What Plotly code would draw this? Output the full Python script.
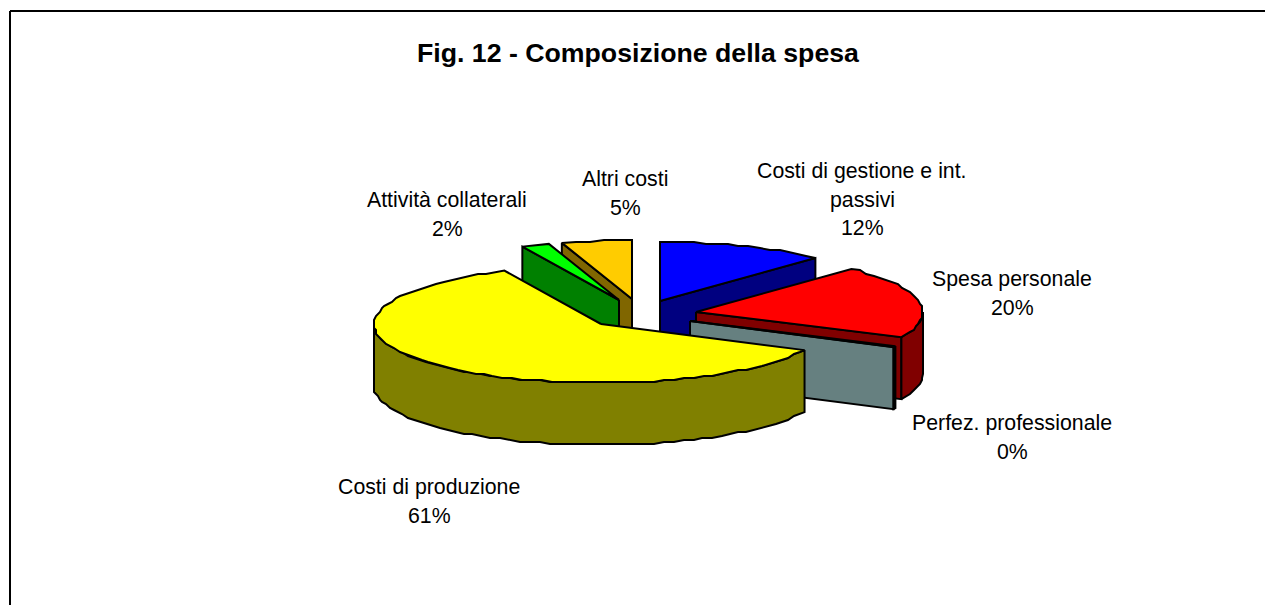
import numpy as np
import plotly.graph_objects as go

# ---- data ----
categories = ["Costi di gestione e int. passivi", "Spesa personale", "Perfez. professionale",
              "Costi di produzione", "Attività collaterali", "Altri costi"]
values = [12.0, 20.0, 0.3, 60.7, 2.0, 5.0]
label_lines = [["Costi di gestione e int.", "passivi"], ["Spesa personale"], ["Perfez. professionale"],
               ["Costi di produzione"], ["Attività collaterali"], ["Altri costi"]]
title_text = "Fig. 12 - Composizione della spesa"

# ---- style: pixel scene ----
W, H = 1265, 605
RX, RY, DEPTH = 227, 59, 62
top_colors = ["#0000FF", "#FF0000", "#CCFFFF", "#FFFF00", "#00FF00", "#FFCC00"]
side_colors = ["#000080", "#800000", "#668080", "#808000", "#008000", "#806600"]
apexes = [(660, 301), (696, 312), (690, 321), (601, 324), (619, 300), (632, 299)]
label_pos = [(862, 171), (1012, 279), (1012, 423), (429, 487), (447, 200), (625, 179)]
LABEL_GAP = 28.5
draw_order = [0, 5, 4, 1, 2, 3]
LINE = dict(color="black", width=2)
GRID = 2.0

fracs = np.array(values) / sum(values)
edges = np.concatenate([[0], np.cumsum(fracs)]) * 2 * np.pi


def rim(a0, a1, cx, cy):
    n = max(2, int(np.degrees(a1 - a0) / 2.6))
    t = np.linspace(a0, a1, n)
    x = cx + RX * np.sin(t)
    y = cy - RY * np.cos(t)
    # coarse device rounding gives the stepped edge of the original drawing
    y = np.round(y / GRID) * GRID
    x = np.round(x / GRID) * GRID
    x[0], x[-1] = cx + RX * np.sin(a0), cx + RX * np.sin(a1)
    y[0], y[-1] = cy - RY * np.cos(a0), cy - RY * np.cos(a1)
    return x, y


def poly(fig, x, y, color):
    x = list(x) + [x[0]]
    y = list(y) + [y[0]]
    fig.add_trace(go.Scatter(x=x, y=y, mode="lines", fill="toself", fillcolor=color,
                             line=LINE, hoverinfo="skip", showlegend=False))


fig = go.Figure()
for i in draw_order:
    a0, a1 = edges[i], edges[i + 1]
    cx, cy = apexes[i]
    rx, ry = rim(a0, a1, cx, cy)
    # visible radial wall: the one facing the viewer
    end = a1 if a1 < np.pi else a0
    ex, ey = cx + RX * np.sin(end), cy - RY * np.cos(end)
    if end == a1 or a0 > np.pi:
        poly(fig, [cx, ex, ex, cx], [cy, ey, ey + DEPTH, cy + DEPTH], side_colors[i])
    # outer wall on the front half
    w0, w1 = max(a0, np.pi / 2), min(a1, 1.5 * np.pi)
    if w1 > w0:
        wx, wy = rim(w0, w1, cx, cy)
        poly(fig, np.concatenate([wx, wx[::-1]]), np.concatenate([wy, wy[::-1] + DEPTH]), side_colors[i])
    poly(fig, np.concatenate([[cx], rx]), np.concatenate([[cy], ry]), top_colors[i])

annotations = [dict(x=638, y=53, text=f"<b>{title_text}</b>", showarrow=False,
                    font=dict(size=26.7, color="black"))]
for lines, pct, (lx, ly) in zip(label_lines, fracs, label_pos):
    for k, s in enumerate(lines + [f"{pct * 100:.0f}%"]):
        annotations.append(dict(x=lx, y=ly + k * LABEL_GAP, text=s, showarrow=False,
                                font=dict(size=21.3, color="black")))

shapes = [dict(type="line", x0=x0, y0=y0, x1=x1, y1=y1, line=dict(color="black", width=2))
          for x0, y0, x1, y1 in [(10, 11, 1265, 11), (10, 11, 10, 605)]]

fig.update_layout(
    width=W, height=H, margin=dict(l=0, r=0, t=0, b=0),
    paper_bgcolor="white", plot_bgcolor="white",
    font=dict(family="Liberation Sans, Arial, sans-serif", color="black"),
    xaxis=dict(range=[0, W], visible=False, fixedrange=True),
    yaxis=dict(range=[H, 0], visible=False, fixedrange=True),
    annotations=annotations, shapes=shapes, showlegend=False,
)
fig.write_html("out.html", config=dict(displayModeBar=False),
               post_script="document.body.style.margin='0';document.body.style.overflow='hidden';")
